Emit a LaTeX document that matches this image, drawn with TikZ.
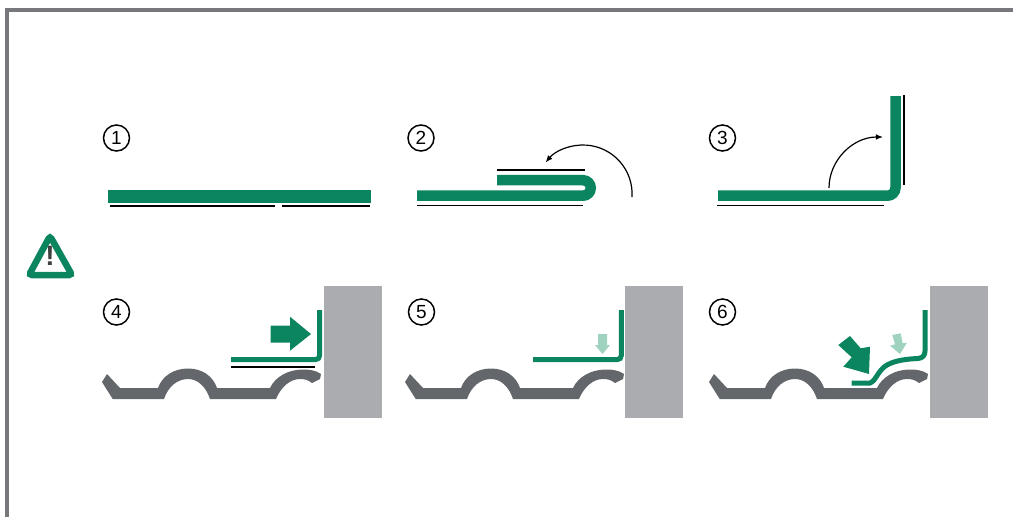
\documentclass[tikz,border=0pt]{standalone}
\usepackage{fontspec}
\setmainfont{Liberation Sans}
\usetikzlibrary{arrows.meta,calc}
\definecolor{foilgreen}{HTML}{0A8560}
\definecolor{palegreen}{HTML}{9FD3C0}
\definecolor{wallgray}{HTML}{ABACAF}
\definecolor{sheetgray}{HTML}{63666A}
\definecolor{framegray}{HTML}{77787B}
\tikzset{
  stepnum/.style={
    draw=black,
    line width=1.5pt,
    circle,
    inner sep=0pt,
    minimum size=26pt,
    font=\fontsize{19}{19}\selectfont
  },
  foil/.style={draw=foilgreen,line width=10.5pt},
  thinfoil/.style={draw=foilgreen,line width=5pt,rounded corners=4pt},
  backing/.style={draw=black,line width=1.8pt},
  turnarrow/.style={-{Latex[length=2.5mm,width=2mm]},line width=1.2pt,draw=black},
  wall/.style={fill=wallgray},
  sheet/.style={fill=sheetgray},
  pushdark/.style={fill=foilgreen},
  pushpale/.style={fill=palegreen}
}
\begin{document}
\begin{tikzpicture}[x=1pt,y=-1pt]
\useasboundingbox (0,0) rectangle (1013,517);
% frame
\draw[framegray,line width=4pt] (7,517) -- (7,10) -- (1013,10);
% step numbers
\node[stepnum] (one) at (116.5,138) {1};
\node[stepnum] (two) at (421,138) {2};
\node[stepnum] (three) at (722.5,138) {3};
\node[stepnum] (four) at (116.5,312) {4};
\node[stepnum] (five) at (421.5,312) {5};
\node[stepnum] (six) at (722.5,312) {6};
% warning
\draw[foilgreen,line width=6.5pt,rounded corners=3pt] (50,236) -- (29,275) -- (72,275) -- cycle;
\node[inner sep=0pt,text=black!75,font=\fontsize{28}{28}\selectfont\bfseries] (warn) at (50,255.5) {!};
% step 1
\draw[foil,line width=13pt] (108,196.5) -- (371,196.5);
\draw[backing] (110,205.7) -- (275,205.7);
\draw[backing] (282,205.7) -- (370,205.7);
% step 2
\draw[foil] (417,195.7) -- (583,195.7) arc[start angle=90,end angle=-90,radius=7.75] -- (497,180.2);
\draw[backing] (497,170) -- (585,170);
\draw[backing] (417,205.5) -- (583,205.5);
\coordinate (turnstart) at (632,197);
\draw[turnarrow] (turnstart) arc[start angle=3.5,end angle=-140,radius=49];
% step 3
\draw[foil,rounded corners=8pt] (718,195.7) -- (895.5,195.7) -- (895.5,96);
\draw[backing] (717,205.5) -- (884,205.5);
\draw[backing] (903.7,95) -- (903.7,185);
\coordinate (raisestart) at (829,188);
\draw[turnarrow] (raisestart) arc[start angle=180,end angle=270,x radius=54,y radius=51];
% walls and corrugated sheets
\foreach \dx/\wx in {0/324,303/625.3,607/930}{
  \fill[wall] (\wx,286) rectangle ++(58,132);
  \fill[sheet,shift={(\dx,0)}] (107,374) -- (120,388) -- (158,388)
    .. controls (162,376) and (174,368.5) .. (188,368.5)
    .. controls (202,368.5) and (213,376) .. (217,388) -- (270,388)
    .. controls (275,377) and (288,369.5) .. (303,369.5)
    .. controls (310,369.5) and (316,370.5) .. (321,374)
    -- (320,379) -- (312,383)
    .. controls (308,380) and (305,379) .. (300,379)
    .. controls (290,379) and (281,387) .. (276,399) -- (210,399)
    .. controls (206,387) and (198,379) .. (188,379)
    .. controls (177,379) and (168,387) .. (164,399) -- (112.7,399) -- (102,382) -- cycle;
}
% step 4
\draw[thinfoil] (231,359.6) -- (319.6,359.6) -- (319.6,310);
\draw[backing] (231,367.3) -- (315,367.3);
\fill[pushdark] (270.7,325.7) -- (290,325.7) -- (290,316.7) -- (311,334) -- (290,350.7) -- (290,342.7) -- (270.7,342.7) -- cycle;
% step 5
\draw[thinfoil] (533,359.6) -- (621.3,359.6) -- (621.3,310);
\fill[pushpale] (598,334) -- (607,334) -- (607,345) -- (610,345) -- (602.5,354) -- (595,345) -- (598,345) -- cycle;
% step 6
\draw[draw=foilgreen,line width=5pt] (851.7,383) -- (870,383)
  .. controls (876,381) and (878,370) .. (887,365)
  .. controls (896,360) and (908,359) .. (918,358.5)
  .. controls (923,358) and (925,355) .. (925,351) -- (925,310);
\fill[pushdark] (838.3,345) -- (850,336) -- (860.7,348.3) -- (870,346.7) -- (869,374) -- (843.3,366.7) -- (851.7,357.3) -- cycle;
\fill[pushpale] (892.3,335) -- (900.7,333.3) -- (902.7,343.3) -- (907,342.7) -- (900,354) -- (890,345.7) -- (895,344.3) -- cycle;
\end{tikzpicture}
\end{document}
